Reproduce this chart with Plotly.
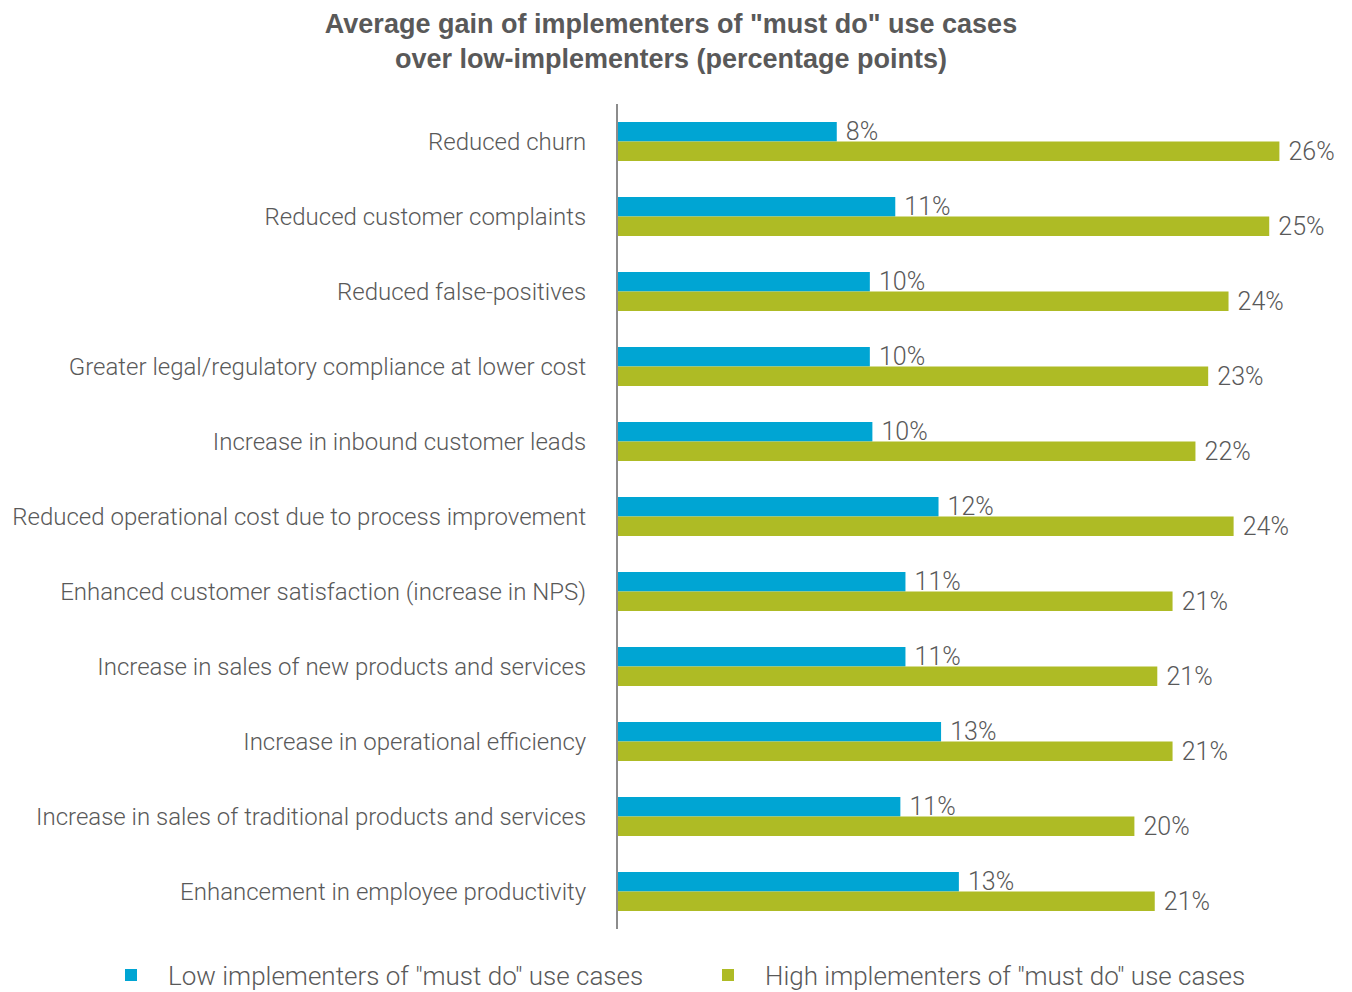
import plotly.graph_objects as go

CATEGORIES = [
    "Reduced churn",
    "Reduced customer complaints",
    "Reduced false-positives",
    "Greater legal/regulatory compliance at lower cost",
    "Increase in inbound customer leads",
    "Reduced operational cost due to process improvement",
    "Enhanced customer satisfaction (increase in NPS)",
    "Increase in sales of new products and services",
    "Increase in operational efficiency",
    "Increase in sales of traditional products and services",
    "Enhancement in employee productivity",
]

# bar lengths (percentage points)
LOW_VALUES = [8.6, 10.9, 9.9, 9.9, 10.0, 12.6, 11.3, 11.3, 12.7, 11.1, 13.4]
HIGH_VALUES = [26.0, 25.6, 24.0, 23.2, 22.7, 24.2, 21.8, 21.2, 21.8, 20.3, 21.1]

# printed labels as they appear on the chart
LOW_LABELS = ["8%", "11%", "10%", "10%", "10%", "12%", "11%", "11%", "13%", "11%", "13%"]
HIGH_LABELS = ["26%", "25%", "24%", "23%", "22%", "24%", "21%", "21%", "21%", "20%", "21%"]

COLORS = {
    "low": "#00A5D3",
    "high": "#AEBB25",
    "text": "#595959",
    "axis": "#8C8C8C",
}
FONT = "Roboto"

# plot area in pixels (left, right, top, bottom)
PL, PR, PT, PB = 618, 1343, 104, 929

fig = go.Figure()
fig.add_trace(go.Bar(
    y=CATEGORIES, x=LOW_VALUES, orientation="h",
    name='Low implementers of "must do" use cases',
    marker=dict(color=COLORS["low"], line=dict(width=0)),
    text=["\u00a0" + t for t in LOW_LABELS], textposition="outside",
    constraintext="none", cliponaxis=False,
    outsidetextfont=dict(family=FONT, size=25, color=COLORS["text"], weight=300),
))
fig.add_trace(go.Bar(
    y=CATEGORIES, x=HIGH_VALUES, orientation="h",
    name='High implementers of "must do" use cases',
    marker=dict(color=COLORS["high"], line=dict(width=0)),
    text=["\u00a0" + t for t in HIGH_LABELS], textposition="outside",
    constraintext="none", cliponaxis=False,
    outsidetextfont=dict(family=FONT, size=25, color=COLORS["text"], weight=300),
))

fig.update_layout(
    width=1352, height=992,
    paper_bgcolor="white", plot_bgcolor="white",
    barmode="group", bargap=0.48, bargroupgap=0,
    title=dict(
        text='Average gain of implementers of "must do" use cases<br>over low-implementers (percentage points)',
        font=dict(family="Liberation Sans", size=27, color=COLORS["text"], weight="bold"),
        x=671 / 1352, xref="container", xanchor="center",
        y=1 - 33 / 992, yref="container", yanchor="middle",
    ),
    xaxis=dict(range=[0, 28.5], visible=False, showgrid=False, zeroline=False),
    yaxis=dict(
        autorange="reversed", showgrid=False, zeroline=False,
        showline=True, linecolor=COLORS["axis"], linewidth=2,
        ticks="", ticklabelstandoff=25,
        tickfont=dict(family=FONT, size=24, color=COLORS["text"], weight=300),
    ),
    legend=dict(
        orientation="h",
        x=(94 - PL) / (PR - PL), xanchor="left",
        y=-(975 - PB) / (PB - PT), yanchor="middle",
        itemwidth=64, entrywidth=518, entrywidthmode="pixels",
        font=dict(family=FONT, size=26, color=COLORS["text"], weight=300),
    ),
    margin=dict(l=PL, r=1352 - PR, t=PT, b=992 - PB, autoexpand=False),
    font=dict(family=FONT, color=COLORS["text"]),
    showlegend=True,
)

fig.write_html(
    "out.html",
    config={"displayModeBar": False},
    post_script="document.body.style.margin='0';",
)
